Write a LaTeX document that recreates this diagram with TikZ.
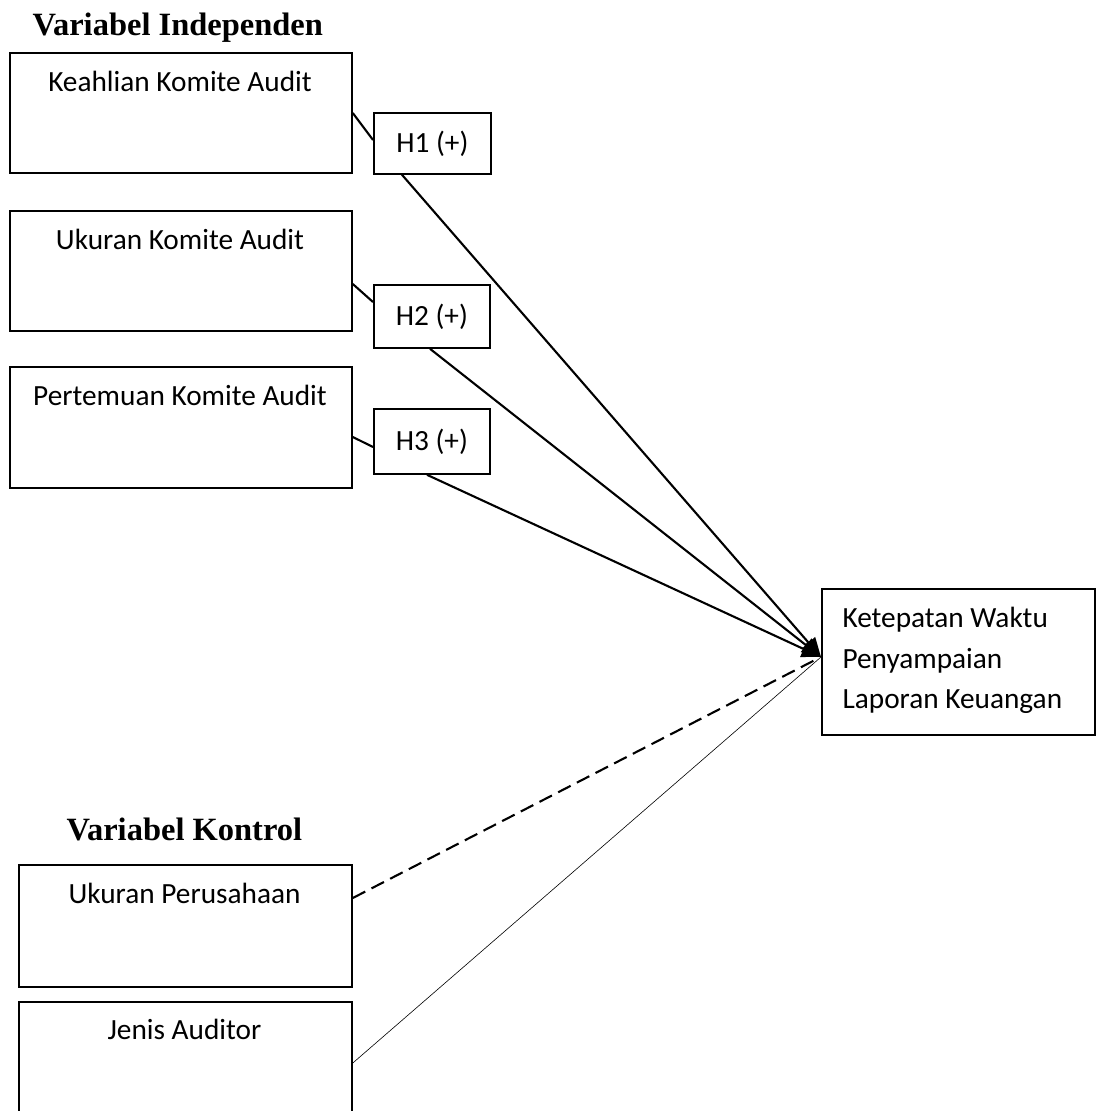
\documentclass[tikz,border=0pt]{standalone}
\usepackage{fontspec}
\setmainfont{Carlito}
\newfontfamily\titlefont{Liberation Serif}
\usetikzlibrary{arrows.meta,calc}
\begin{document}
\begin{tikzpicture}[x=1pt,y=-1pt,
  vbox/.style={draw,line width=1.8pt,inner sep=0pt,anchor=north west},
  btxt/.style={anchor=base,font=\fontsize{29.3}{34}\selectfont},
  ttl/.style={anchor=base west,font=\titlefont\bfseries\fontsize{32.5}{36}\selectfont},
  link/.style={line width=2.1pt},
  arr/.style={line width=2.1pt,-{Triangle[length=19pt,width=17pt]}},
  dashlink/.style={line width=2.1pt,dash pattern=on 14pt off 7pt},
  thinlink/.style={line width=0.6pt}]
\useasboundingbox (0,0) rectangle (1103,1111);
% titles
\node[ttl] (t1) at (29,35) {Variabel Independen};
\node[ttl] (t2) at (63,840) {Variabel Kontrol};
% independent boxes
\node[vbox,minimum width=342pt,minimum height=120pt] (b1) at (9,52) {};
\node[btxt] (b1t) at (180,91) {Keahlian Komite Audit};
\node[vbox,minimum width=342pt,minimum height=120pt] (b2) at (9,210) {};
\node[btxt] (b2t) at (180,249) {Ukuran Komite Audit};
\node[vbox,minimum width=342pt,minimum height=121pt] (b3) at (9,366) {};
\node[btxt] (b3t) at (180,405) {Pertemuan Komite Audit};
% hypothesis boxes
\node[vbox,minimum width=117pt,minimum height=61pt,font=\fontsize{29.3}{34}\selectfont] (h1) at (373,112) {H1 (+)};
\node[vbox,minimum width=116pt,minimum height=63pt,font=\fontsize{29.3}{34}\selectfont] (h2) at (373,284) {H2 (+)};
\node[vbox,minimum width=116pt,minimum height=65pt,font=\fontsize{29.3}{34}\selectfont] (h3) at (373,408) {H3 (+)};
% control boxes
\node[vbox,minimum width=333pt,minimum height=122pt] (b4) at (18,864) {};
\node[btxt] (b4t) at (184.5,903) {Ukuran Perusahaan};
\node[vbox,minimum width=333pt,minimum height=130pt] (b5) at (18,1001) {};
\node[btxt] (b5t) at (184.5,1039) {Jenis Auditor};
% target box
\node[vbox,minimum width=273pt,minimum height=146pt] (y) at (821,588) {};
\node[btxt,anchor=base west] (yt1) at (839,627) {Ketepatan Waktu};
\node[btxt,anchor=base west] (yt2) at (839,668) {Penyampaian};
\node[btxt,anchor=base west] (yt3) at (839,708) {Laporan Keuangan};
\coordinate (tip) at ([yshift=-69pt]y.north west);
\coordinate (dend) at ([xshift=-6pt,yshift=-72pt]y.north west);
% connectors
\draw[link] ([yshift=-61pt]b1.north east) -- ([yshift=-28pt]h1.north west);
\draw[link] ([yshift=-74pt]b2.north east) -- ([yshift=-18pt]h2.north west);
\draw[link] ([yshift=-71pt]b3.north east) -- ([yshift=-39pt]h3.north west);
\draw[arr] ([xshift=29pt]h1.south west) -- (tip);
\draw[arr] ([xshift=57pt]h2.south west) -- (tip);
\draw[arr] ([xshift=54pt]h3.south west) -- (tip);
\draw[dashlink] ([yshift=-34pt]b4.north east) -- (dend);
\draw[thinlink] ([yshift=-62pt]b5.north east) -- (tip);
\end{tikzpicture}
\end{document}
